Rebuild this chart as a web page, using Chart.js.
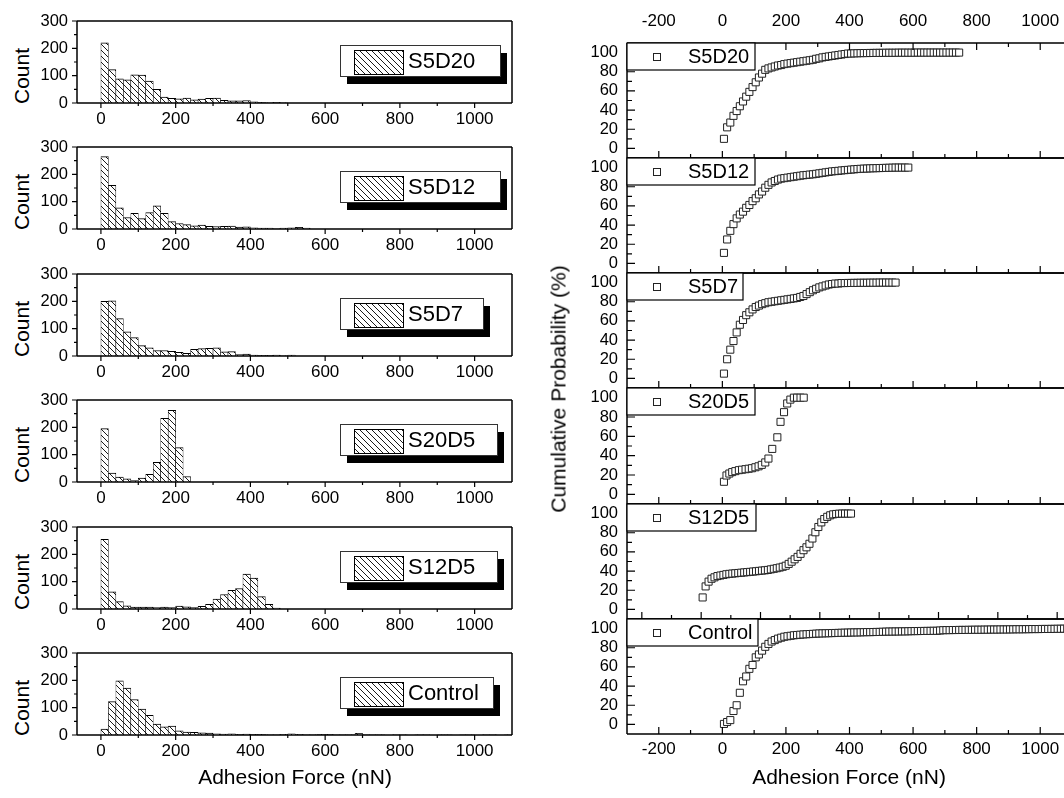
<!DOCTYPE html>
<html>
<head>
<meta charset="utf-8">
<script src="https://cdn.jsdelivr.net/npm/chart.js@4.4.1/dist/chart.umd.min.js"></script>
<style>
  body { margin: 0; background: #fff; width: 1064px; height: 798px; overflow: hidden; position: relative;
         font-family: 'Liberation Sans', Arial, sans-serif; }
  canvas { position: absolute; }
  .t { position: absolute; font-size: 21px; line-height: 1; color: #000; white-space: nowrap; }
</style>
</head>
<body>
<script>
// ---- histogram data (bin width 20 nN) ----
const binCenters = [10,30,50,70,90,110,130,150,170,190,210,230,250,270,290,310,330,350,370,390,
  410,430,450,470,490,510,530,550,570,590,610,630,650,670,690,710,730,750,770,790,
  810,830,850,870,890,910,930,950,970,990,1010,1030,1050,1070,1090];
const s5d20Counts = [220,122,88,85,103,102,80,50,22,17,15,18,12,14,17,18,10,8,8,9,4,2,1,2,1];
const s5d12Counts = [265,160,77,42,57,38,60,85,57,27,20,16,12,14,10,9,10,11,7,8,4,3,3,1,3,4,6,3];
const s5d7Counts = [200,202,137,88,67,38,30,20,20,17,13,10,24,27,28,30,15,16,5,7,3,2,2,3,1,3];
const s20d5Counts = [195,33,18,12,5,14,28,72,233,262,126,20];
const s12d5Counts = [255,63,27,12,7,7,7,5,7,5,11,8,5,10,17,36,53,68,75,128,113,45,17,3];
const controlCounts = [22,122,198,172,130,95,72,40,30,33,15,11,10,8,7,4,3,4,2,3,
  2,2,1,1,2,4,2,1,1,2,2,1,1,1,6,1,1,1,0,1,1,0,1,1,0,1,1,0,1,1,0,1,1,0,1];

// ---- cumulative probability data ----
const cumForce = [5,15,25,35,45,55,65,75,85,95,105,115,125,135,145,155,165,175,185,195,
  205,215,225,235,245,255,265,275,285,295,305,315,325,335,345,355,365,375,385,395,
  405,415,425,435,445,455,465,475,485,495,505,515,525,535,545,555,565,575,585,595,
  605,615,625,635,645,655,665,675,685,695,705,715,725,735,745,755,765,775,785,795,
  805,815,825,835,845,855,865,875,885,895,905,915,925,935,945,955,965,975,985,995,
  1005,1015,1025,1035,1045,1055,1065,1075,1085,1095];
const s5d20Cum = [10,22,27,34,39,44,49,54,59,64,69,74,78,82,83.5,84.5,85.5,86.5,87,88,
  88.5,89,89.5,90,90.5,91,91.5,92,92.5,93.5,94,95,95.5,96,96.5,97,97.5,98,98.5,99,
  99,99.2,99.3,99.4,99.5,99.5,99.6,99.6,99.7,99.7,99.7,99.8,99.8,99.8,99.8,99.9,99.9,99.9,99.9,99.9,
  99.9,100,100,100,100,100,100,100,100,100,100,100,100,100,100];
const s5d12Cum = [11,25,34,41,47,51,54,58,61,65,68,72,75,79,82,84.5,86,87.5,88.5,89,
  89.5,90,90.5,91,91.5,92,92.3,92.7,93,93.5,94,94.5,95,95.5,96,96.3,96.6,97,97.3,97.6,
  97.9,98.2,98.5,98.7,98.9,99,99.2,99.3,99.4,99.5,99.6,99.7,99.8,99.9,100,100,100,100,100];
const s5d7Cum = [5,20,30,39,48,56,61,66,69,72,74.5,76,77.5,78.5,79.5,80,80.5,81,81.5,82,
  82.5,83,83.5,84,85,86,88,90,92,93.5,95,96,97,98,98.5,99,99,99.5,99.5,99.6,
  99.6,99.7,99.7,99.8,99.8,99.8,99.9,99.9,99.9,100,100,100,100,100,100];
const s20d5Force = [5,13,22,31,41,52,62,73,83,93,104,114,124,135,145,157,173,183,194,204,214,225,235,246,256];
const s20d5Cum = [13,19.5,21.5,23,24,25,25.5,26,26.5,27,28,29,30.5,33,37,47,59,75,85,94,98,100,100,100,100];
const s12d5Cum = [12.5,24,29,32,33.5,34.8,35.4,36,36.7,37.1,37.4,37.7,38,38.3,38.6,38.9,39.2,39.5,39.8,40.2,
  40.5,40.8,41.2,41.8,42.4,43,43.7,44.5,45.6,47.5,49.8,52.3,54.8,58,61.8,64.8,68.5,74,80.5,86,
  90.8,94.3,96.6,98.2,99.2,99.6,99.9,100,100,100,100];
const controlCum = [0.5,2.5,4.5,14,20,33,45,50,58,62,70,73,77,81,84,86.5,88,89.5,90.5,91.5,
  92,92.5,93,93.3,93.6,93.9,94.1,94.3,94.5,94.7,94.9,95,95.1,95.2,95.3,95.4,95.5,95.6,95.7,95.8,
  95.9,96,96,96.1,96.2,96.3,96.3,96.4,96.5,96.5,96.7,96.8,96.9,96.9,97,97,97.1,97.1,97.2,97.3,
  97.4,97.4,97.5,97.5,97.6,97.6,97.7,97.7,98,98.3,98.4,98.4,98.5,98.5,98.6,98.6,98.6,98.7,98.7,98.8,
  98.8,98.8,98.9,98.9,99,99,99,99.1,99.1,99.1,99.2,99.2,99.3,99.3,99.3,99.4,99.4,99.5,99.5,99.5,
  99.6,99.6,99.6,99.7,99.7,99.8,99.8,99.9,99.9,100];

// ---- tick values ----
const histXMajor = [0,200,400,600,800,1000];
const histXMinor = [100,300,500,700,900];
const histYMajor = [0,100,200,300];
const histYMinor = [50,150,250];
const cumXMajor = [-200,0,200,400,600,800,1000];
const cumXMinor = [-100,100,300,500,700,900];
const wideXMajor = [-200,0,200,400,600,800,1000,1200];
const wideXMinor = [-100,100,300,500,700,900,1100];
const cumYMajor = [0,20,40,60,80,100];
const cumYMinor = [10,30,50,70,90];

const histPanels = [
  ['S5D20', s5d20Counts], ['S5D12', s5d12Counts], ['S5D7', s5d7Counts],
  ['S20D5', s20d5Counts], ['S12D5', s12d5Counts], ['Control', controlCounts]
];
const cumPanels = [
  ['S5D20', cumForce, s5d20Cum], ['S5D12', cumForce, s5d12Cum], ['S5D7', cumForce, s5d7Cum],
  ['S20D5', s20d5Force, s20d5Cum], ['S12D5', cumForce, s12d5Cum], ['Control', cumForce, controlCum]
];

// ---- layout ----
const histBottoms = [103, 229, 356, 482, 609, 735];
const histLegendW = [160, 160, 143, 157, 157, 153];
const cumTops = [43, 158, 273, 388, 504, 619, 734];
const cumLegendW = [128, 128, 116, 128, 129, 131];
const FONT = "'Liberation Sans', Arial, sans-serif";

Chart.defaults.font.family = FONT;
Chart.defaults.font.size = 17;
Chart.defaults.color = '#000';

function makeCanvas(left, top, w, h) {
  const c = document.createElement('canvas');
  c.width = w; c.height = h;
  c.style.left = left + 'px'; c.style.top = top + 'px';
  c.style.width = w + 'px'; c.style.height = h + 'px';
  document.body.appendChild(c);
  return c;
}

function addText(txt, cx, cy, rotate) {
  const d = document.createElement('div');
  d.className = 't';
  d.textContent = txt;
  d.style.left = cx + 'px'; d.style.top = cy + 'px';
  d.style.transform = 'translate(-50%,-50%)' + (rotate ? ' rotate(-90deg)' : '');
  document.body.appendChild(d);
}

const hatch = (() => {
  const c = document.createElement('canvas');
  c.width = c.height = 6;
  const g = c.getContext('2d');
  g.fillStyle = '#fff'; g.fillRect(0, 0, 6, 6);
  g.strokeStyle = '#000'; g.lineWidth = 0.9;
  g.beginPath();
  g.moveTo(-1, -1); g.lineTo(7, 7);
  g.moveTo(-1, 5); g.lineTo(1, 7);
  g.moveTo(5, -1); g.lineTo(7, 1);
  g.stroke();
  return g.createPattern(c, 'repeat');
})();

// frame, tick marks and legend box
const decor = {
  id: 'decor',
  afterDraw(chart, args, o) {
    const { ctx, chartArea: a } = chart;
    const xs = chart.scales.x, ys = chart.scales.y;
    ctx.save();
    ctx.strokeStyle = '#000';
    ctx.lineWidth = 1.2;
    ctx.beginPath();
    o.ticks.forEach(t => {
      t.vals.forEach(v => {
        if (t.edge === 'bottom' || t.edge === 'top') {
          const p = xs.getPixelForValue(v);
          const y0 = t.edge === 'bottom' ? a.bottom : a.top;
          const d = t.edge === 'bottom' ? -t.len : t.len;
          ctx.moveTo(p, y0); ctx.lineTo(p, y0 + d);
        } else {
          const p = ys.getPixelForValue(v);
          ctx.moveTo(a.left, p); ctx.lineTo(a.left + t.len, p);
        }
      });
    });
    ctx.stroke();
    ctx.lineWidth = 1.5;
    ctx.beginPath();
    if (o.sides.includes('l')) { ctx.moveTo(a.left, a.top); ctx.lineTo(a.left, a.bottom); }
    if (o.sides.includes('r')) { ctx.moveTo(a.right, a.top); ctx.lineTo(a.right, a.bottom); }
    if (o.sides.includes('t')) { ctx.moveTo(a.left, a.top); ctx.lineTo(a.right, a.top); }
    if (o.sides.includes('b')) { ctx.moveTo(a.left, a.bottom); ctx.lineTo(a.right, a.bottom); }
    ctx.stroke();
    if (o.legend) o.legend(ctx, a);
    ctx.restore();
  }
};

function histLegend(label, w) {
  return (ctx, a) => {
    const x = 340, y = a.top + 24, h = 31;
    ctx.fillStyle = '#000';
    ctx.fillRect(x + 7, y + 8, w, h);
    ctx.fillStyle = '#fff';
    ctx.fillRect(x, y, w, h);
    ctx.lineWidth = 1; ctx.strokeStyle = '#333';
    ctx.strokeRect(x + 0.5, y + 0.5, w, h);
    ctx.fillStyle = hatch;
    ctx.fillRect(354, y + 5, 49, h - 7);
    ctx.strokeStyle = '#000';
    ctx.strokeRect(354.5, y + 5.5, 49, h - 7);
    ctx.fillStyle = '#000';
    ctx.font = '22px ' + FONT;
    ctx.textBaseline = 'middle';
    ctx.fillText(label, 408, y + h / 2 + 1);
  };
}

function cumLegend(label, w) {
  return (ctx, a) => {
    const x = a.left, y = a.top, h = 27;
    ctx.fillStyle = '#fff';
    ctx.fillRect(x, y, w, h);
    ctx.strokeStyle = '#000'; ctx.lineWidth = 1.2;
    ctx.strokeRect(x, y, w, h);
    ctx.lineWidth = 1; ctx.strokeStyle = '#222';
    ctx.strokeRect(x + 26.5, y + 10.5, 7, 7);
    ctx.fillStyle = '#000';
    ctx.font = '20px ' + FONT;
    ctx.textBaseline = 'middle';
    ctx.fillText(label, x + 61, y + 14.5);
  };
}

const fixTicks = vals => s => { s.ticks = vals.map(v => ({ value: v })); };
// fixed axis box size, no extra label padding, so the plot area lands exactly where wanted
const fixSize = (prop, val) => s => {
  s[prop] = val;
  s.paddingTop = s.paddingBottom = s.paddingLeft = s.paddingRight = 0;
};
const noGrid = { display: false, drawTicks: false };

// ---- left: histograms ----
histPanels.forEach(([name, counts], i) => {
  const bottom = histBottoms[i], top = bottom - 82;
  addText('Count', 21, (top + bottom) / 2 + 14, true);
  const c = makeCanvas(0, top - 12, 530, 124);
  new Chart(c, {
    type: 'bar',
    data: {
      datasets: [{
        data: counts.map((v, k) => ({ x: binCenters[k], y: v })),
        backgroundColor: hatch,
        borderColor: '#000',
        borderWidth: { top: 1, left: 0.6, right: 0.6, bottom: 0 },
        barPercentage: 1,
        categoryPercentage: 1
      }]
    },
    options: {
      responsive: false,
      animation: false,
      layout: { autoPadding: false, padding: { top: 12, right: 18, left: 0, bottom: 0 } },
      plugins: {
        legend: { display: false },
        tooltip: { enabled: false },
        decor: {
          sides: 'lrtb',
          ticks: [
            { edge: 'bottom', vals: histXMajor, len: -5 },
            { edge: 'bottom', vals: histXMinor, len: -3 },
            { edge: 'left', vals: histYMajor, len: -5 },
            { edge: 'left', vals: histYMinor, len: -3 }
          ],
          legend: histLegend(name, histLegendW[i])
        }
      },
      scales: {
        x: {
          type: 'linear', min: -64, max: 1100, offset: false,
          grid: noGrid, border: { display: false },
          ticks: { padding: 6, maxRotation: 0, autoSkip: false, callback: v => String(v) },
          afterBuildTicks: fixTicks(histXMajor),
          afterFit: fixSize('height', 30)
        },
        y: {
          min: 0, max: 300,
          grid: noGrid, border: { display: false },
          ticks: { padding: 9, autoSkip: false, font: { size: 16.5 }, callback: v => String(v) },
          afterBuildTicks: fixTicks(histYMajor),
          afterFit: fixSize('width', 77)
        }
      }
    },
    plugins: [decor]
  });
});
addText('Adhesion Force (nN)', 295, 776, false);

// ---- right: cumulative probability ----
cumPanels.forEach(([name, xs, ys], i) => {
  const top = cumTops[i], h = cumTops[i + 1] - top;
  const first = i === 0, last = i === 5;
  const padTop = first ? 0 : 11, padBot = last ? 0 : 11;
  const topAxis = first ? 43 : 0, botAxis = last ? 64 : 0;
  const wide = name === 'S12D5';
  const xMin = wide ? -250 : -300, xMax = wide ? 1250 : 1100;
  const major = wide ? wideXMajor : cumXMajor, minor = wide ? wideXMinor : cumXMinor;
  const c = makeCanvas(540, top - padTop - topAxis, 532, padTop + topAxis + h + botAxis + padBot);
  const ticks = [
    { edge: 'bottom', vals: major, len: 7 },
    { edge: 'bottom', vals: minor, len: 4 },
    { edge: 'left', vals: cumYMajor, len: 8 },
    { edge: 'left', vals: cumYMinor, len: 5 }
  ];
  if (first) {
    ticks.push({ edge: 'top', vals: major, len: 7 }, { edge: 'top', vals: minor, len: 4 });
  }
  const scales = {
    x: {
      type: 'linear', min: xMin, max: xMax, display: last,
      grid: noGrid, border: { display: false },
      ticks: { padding: 5, maxRotation: 0, autoSkip: false, callback: v => String(v) },
      afterBuildTicks: fixTicks(major),
      afterFit: fixSize('height', botAxis)
    },
    y: {
      min: -10, max: 110,
      grid: noGrid, border: { display: false },
      ticks: { padding: 9, autoSkip: false, font: { size: 16.5 }, callback: v => String(v) },
      afterBuildTicks: fixTicks(cumYMajor),
      afterFit: fixSize('width', 87)
    }
  };
  if (first) {
    scales.x2 = {
      type: 'linear', position: 'top', min: xMin, max: xMax,
      grid: noGrid, border: { display: false },
      ticks: { padding: 11, maxRotation: 0, autoSkip: false, callback: v => String(v) },
      afterBuildTicks: fixTicks(major),
      afterFit: fixSize('height', topAxis)
    };
  }
  new Chart(c, {
    type: 'scatter',
    data: {
      datasets: [{
        data: ys.map((v, k) => ({ x: xs[k], y: v })),
        pointStyle: 'rect',
        pointRadius: 5,
        pointHoverRadius: 5,
        borderColor: '#222',
        backgroundColor: '#fff',
        borderWidth: 1
      }]
    },
    options: {
      responsive: false,
      animation: false,
      layout: { autoPadding: false, padding: { top: padTop, bottom: padBot, left: 0, right: 0 } },
      plugins: {
        legend: { display: false },
        tooltip: { enabled: false },
        decor: { sides: 'ltb', ticks, legend: cumLegend(name, cumLegendW[i]) }
      },
      scales
    },
    plugins: [decor]
  });
});
addText('Adhesion Force (nN)', 849, 776, false);
addText('Cumulative Probability (%)', 558, 389, true);
</script>
</body>
</html>
